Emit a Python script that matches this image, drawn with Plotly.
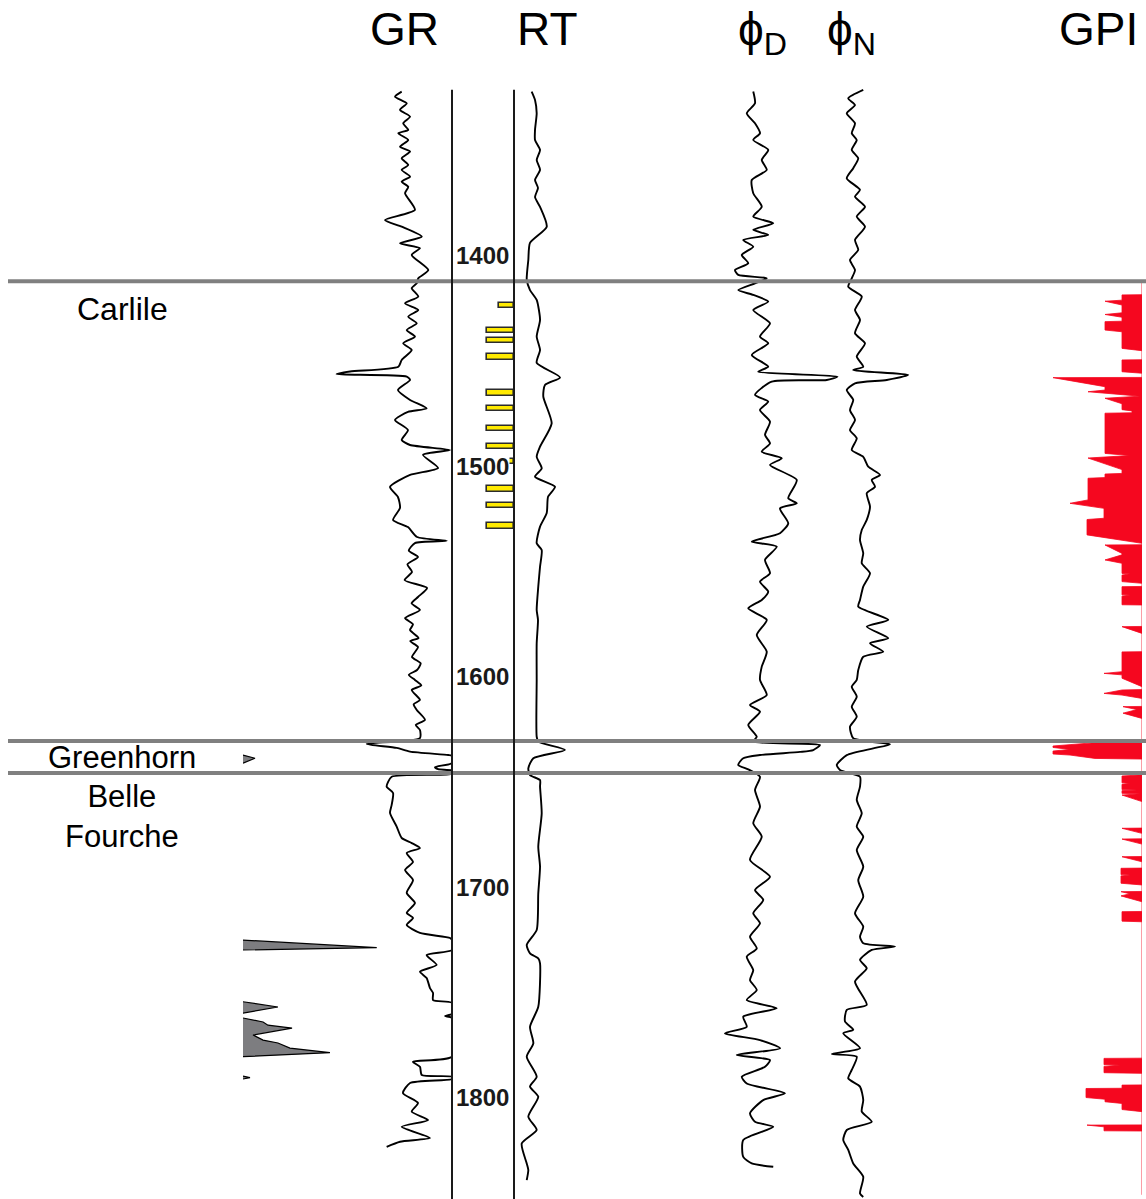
import plotly.graph_objects as go

W, H = 1146, 1199

# ---------------- data ----------------
depth_ticks = [1400, 1500, 1600, 1700, 1800]

formations = ["Carlile", "Greenhorn", "Belle Fourche"]
formation_tops = [1412.0, 1630.4, 1645.6]

# Gamma ray (API), main curve
gr_depth = [1321.9, 1324.3, 1327.5, 1330.6, 1333.8, 1337.0, 1340.1, 1341.7, 1344.9, 1348.1,
            1350.4, 1353.6, 1356.8, 1359.1, 1362.3, 1364.7, 1367.1, 1370.2, 1378.1, 1382.9,
            1386.1, 1390.8, 1394.0, 1396.3, 1399.5, 1406.7, 1410.6, 1413.0, 1415.3, 1419.3,
            1422.5, 1425.7, 1428.8, 1432.0, 1435.2, 1438.3, 1441.5, 1444.7, 1449.4, 1452.6,
            1454.9, 1456.1, 1457.3, 1458.9, 1463.7, 1468.4, 1472.4, 1474.1, 1477.9, 1482.7,
            1487.4, 1489.8, 1492.2, 1494.5, 1500.7, 1504.0, 1509.7, 1514.5, 1519.7, 1525.4,
            1528.8, 1533.5, 1535.3, 1536.4, 1540.0, 1543.0, 1546.5, 1550.1, 1554.0, 1557.7,
            1562.0, 1565.0, 1568.2, 1572.0, 1575.0, 1577.7, 1581.5, 1583.0, 1585.8, 1590.5,
            1593.5, 1596.7, 1599.0, 1601.4, 1604.0, 1606.2, 1610.9, 1613.0, 1615.7, 1620.4,
            1622.8, 1625.2, 1629.0, 1631.8, 1633.7, 1635.5, 1637.1, 1637.5, 1640.9, 1642.8,
            1643.8, 1644.5, 1646.0, 1647.4, 1652.1, 1655.1, 1660.8, 1664.6, 1671.1, 1676.5,
            1678.9, 1681.3, 1683.6, 1687.9, 1691.7, 1696.5, 1702.6, 1707.4, 1712.1, 1714.5,
            1717.8, 1721.6, 1724.0, 1725.0, 1729.7, 1732.1, 1736.8, 1740.0, 1743.0, 1747.8,
            1750.1, 1753.5, 1754.8, 1760.0, 1761.1, 1762.0, 1780.4, 1782.8, 1785.2, 1789.1,
            1789.9, 1791.0, 1792.9, 1797.7, 1802.4, 1806.5, 1810.5, 1813.7, 1819.0, 1820.8,
            1823.2]
gr_api = [113.9, 109.1, 117.5, 112.7, 119.9, 115.0, 118.6, 111.5, 118.6, 112.7,
          119.9, 113.9, 118.6, 113.9, 119.9, 113.9, 118.6, 116.3, 123.4, 101.9,
          113.9, 128.3, 112.7, 127.0, 121.1, 133.0, 125.8, 124.7, 121.1, 125.8,
          116.3, 125.8, 118.6, 124.7, 117.5, 123.4, 115.0, 121.1, 113.9, 111.5,
          76.8, 67.2, 117.5, 119.9, 111.2, 119.9, 131.8, 118.4, 109.1, 118.4,
          113.9, 119.9, 148.6, 129.2, 140.0, 119.9, 105.5, 111.2, 112.7, 107.7,
          118.4, 124.9, 146.2, 123.4, 119.0, 125.6, 118.0, 121.3, 116.0, 132.1,
          125.6, 121.0, 127.0, 116.3, 122.0, 119.9, 126.0, 120.0, 125.6, 121.3,
          127.5, 124.9, 119.0, 123.4, 128.0, 121.1, 127.0, 122.5, 124.7, 130.6,
          124.0, 127.0, 127.0, 88.8, 110.3, 119.9, 147.3, 150.0, 150.0, 137.8,
          140.0, 150.0, 150.0, 106.7, 103.1, 107.7, 106.7, 105.5, 110.3, 113.9,
          121.1, 127.0, 117.5, 122.0, 116.3, 122.0, 117.5, 123.4, 117.5, 122.0,
          117.5, 127.0, 148.6, 150.0, 150.0, 131.8, 139.0, 127.0, 131.8, 134.2,
          136.4, 136.4, 150.0, 150.0, 145.0, 150.0, 150.0, 122.0, 127.0, 128.3,
          150.0, 150.0, 119.9, 114.8, 125.6, 121.1, 132.8, 113.9, 134.2, 112.7,
          103.1]

# Gamma ray wrap-around (API above the 150 full scale), shaded backup
gr_wrap_depth = [1637.1, 1638.6, 1641.0, None,
                 1725.0, 1728.6, 1729.7, None,
                 1754.3, 1756.8, 1759.7, None,
                 1762.0, 1763.9, 1765.4, 1766.8, 1770.1, 1772.5, 1773.9, 1776.3, 1778.5, 1780.4, None,
                 1789.6, 1790.3, 1791.0]
gr_wrap_api = [0, 8.6, 0, None,
               0, 96.0, 0, None,
               0, 25.1, 0, None,
               0, 14.4, 17.9, 35.2, 7.2, 14.4, 25.1, 33.7, 62.4, 0, None,
               0, 5.0, 0]

# Deep resistivity (ohm-m)
rt_depth = [1321.9, 1325.9, 1332.2, 1340.1, 1344.9, 1349.6, 1354.4, 1359.1, 1363.9, 1367.7,
            1372.0, 1376.7, 1386.1, 1393.8, 1401.9, 1411.4, 1416.2, 1420.9, 1430.4, 1438.3,
            1444.7, 1450.8, 1457.7, 1461.3, 1466.8, 1479.5, 1490.6, 1495.4, 1500.9, 1504.9,
            1509.6, 1514.4, 1522.1, 1528.6, 1536.5, 1539.7, 1547.6, 1557.1, 1568.2, 1572.9,
            1584.0, 1601.4, 1628.4, 1630.7, 1634.7, 1638.6, 1643.4, 1646.6, 1649.0, 1652.1,
            1664.8, 1680.6, 1690.1, 1702.8, 1720.2, 1727.3, 1731.3, 1733.7, 1736.1, 1756.7,
            1766.2, 1774.1, 1780.4, 1789.9, 1794.6, 1799.4, 1808.9, 1815.2, 1821.6, 1831.1,
            1834.2, 1839.0]
rt_ohmm = [1.90, 2.26, 2.44, 2.26, 2.26, 2.80, 2.44, 2.80, 2.26, 2.58,
           2.26, 2.80, 3.52, 1.72, 1.54, 1.37, 1.72, 2.44, 2.80, 2.44,
           2.80, 2.44, 4.95, 3.33, 3.15, 4.05, 2.80, 2.44, 2.98, 2.26,
           4.41, 3.66, 3.52, 2.80, 2.44, 2.98, 2.80, 2.61, 2.44, 2.58,
           2.44, 2.44, 2.44, 2.61, 5.48, 2.08, 1.54, 1.72, 2.80, 2.80,
           2.98, 2.61, 2.80, 2.61, 2.44, 1.37, 1.72, 2.61, 2.80, 2.61,
           1.72, 2.08, 1.37, 2.44, 1.72, 2.61, 1.54, 2.44, 0.83, 1.37,
           1.54, 1.37]

# Density porosity (v/v)
phid_depth = [1321.9, 1327.5, 1332.2, 1337.0, 1341.7, 1344.9, 1349.6, 1354.4, 1359.1, 1363.9,
              1370.2, 1376.6, 1381.3, 1384.5, 1387.6, 1390.0, 1392.4, 1395.6, 1399.5, 1403.5,
              1406.7, 1409.0, 1410.6, 1413.0, 1416.2, 1418.5, 1421.7, 1425.7, 1432.0, 1438.3,
              1441.5, 1447.0, 1452.6, 1455.0, 1457.3, 1458.9, 1459.7, 1466.0, 1469.2, 1473.2,
              1478.7, 1485.0, 1489.0, 1493.0, 1496.1, 1499.3, 1506.4, 1515.1, 1517.5, 1519.9,
              1527.0, 1531.7, 1535.7, 1538.1, 1544.4, 1550.7, 1554.7, 1559.5, 1563.4, 1567.4,
              1572.9, 1580.1, 1588.0, 1595.1, 1601.4, 1608.6, 1613.3, 1616.5, 1622.8, 1628.4,
              1630.7, 1632.3, 1634.7, 1635.6, 1637.1, 1638.6, 1641.8, 1643.9, 1647.4, 1653.7,
              1661.6, 1669.5, 1675.9, 1686.9, 1694.9, 1701.2, 1705.9, 1712.3, 1717.0, 1723.4,
              1729.0, 1732.9, 1739.3, 1744.0, 1748.7, 1753.5, 1757.4, 1761.4, 1766.2, 1769.3,
              1772.5, 1776.4, 1779.6, 1782.0, 1785.2, 1789.9, 1793.1, 1797.8, 1801.0, 1807.3,
              1811.3, 1813.7, 1820.0, 1828.0, 1831.1, 1832.7]
phid = [0.197, 0.190, 0.223, 0.190, 0.170, 0.197, 0.137, 0.163, 0.143, 0.203,
        0.197, 0.163, 0.197, 0.117, 0.197, 0.137, 0.237, 0.197, 0.243, 0.217,
        0.270, 0.257, 0.143, 0.190, 0.257, 0.197, 0.137, 0.197, 0.130, 0.170,
        0.137, 0.203, 0.137, 0.177, -0.140, -0.097, 0.123, 0.190, 0.137, 0.170,
        0.130, 0.150, 0.130, 0.163, 0.083, 0.130, 0.023, 0.057, 0.023, 0.090,
        0.057, 0.090, 0.203, 0.103, 0.150, 0.130, 0.170, 0.137, 0.163, 0.217,
        0.143, 0.183, 0.143, 0.163, 0.170, 0.143, 0.210, 0.170, 0.217, 0.183,
        0.197, -0.070, -0.043, 0.010, 0.170, 0.237, 0.257, 0.217, 0.170, 0.190,
        0.170, 0.197, 0.163, 0.210, 0.130, 0.190, 0.157, 0.197, 0.170, 0.210,
        0.183, 0.223, 0.197, 0.210, 0.183, 0.223, 0.103, 0.237, 0.223, 0.310,
        0.170, 0.090, 0.263, 0.130, 0.150, 0.243, 0.223, 0.070, 0.157, 0.210,
        0.190, 0.117, 0.237, 0.237, 0.203, 0.117]

# Neutron porosity (v/v)
phin_depth = [1321.1, 1325.1, 1328.3, 1332.2, 1337.0, 1341.7, 1344.9, 1349.6, 1353.6, 1358.3,
              1363.1, 1368.6, 1371.8, 1376.6, 1381.3, 1386.1, 1392.4, 1397.1, 1401.9, 1406.7,
              1410.6, 1414.6, 1419.3, 1425.7, 1430.4, 1436.7, 1441.5, 1447.8, 1452.6, 1454.2,
              1456.5, 1458.9, 1460.5, 1463.7, 1468.4, 1473.2, 1477.9, 1482.7, 1486.6, 1492.2,
              1495.4, 1500.1, 1504.0, 1506.4, 1509.6, 1512.7, 1519.1, 1525.4, 1530.2, 1534.9,
              1541.2, 1546.0, 1550.7, 1557.1, 1563.4, 1566.6, 1572.9, 1576.1, 1581.6, 1584.0,
              1588.0, 1590.4, 1596.7, 1601.4, 1604.6, 1609.4, 1614.1, 1618.9, 1623.6, 1629.1,
              1632.0, 1633.9, 1637.1, 1641.8, 1644.2, 1647.4, 1652.1, 1658.4, 1664.8, 1671.1,
              1675.9, 1682.2, 1690.1, 1696.5, 1704.4, 1712.3, 1718.6, 1723.4, 1726.5, 1728.1,
              1729.7, 1734.4, 1738.4, 1744.7, 1755.8, 1758.2, 1763.7, 1767.6, 1769.3, 1776.4,
              1779.1, 1780.4, 1786.7, 1790.7, 1794.6, 1801.0, 1806.5, 1811.3, 1815.2, 1820.0,
              1824.7, 1831.1, 1837.4, 1845.4, 1847.0]
phin = [0.347, 0.407, 0.380, 0.413, 0.380, 0.393, 0.373, 0.393, 0.367, 0.387,
        0.413, 0.360, 0.380, 0.340, 0.373, 0.340, 0.380, 0.367, 0.400, 0.380,
        0.393, 0.407, 0.353, 0.380, 0.360, 0.380, 0.340, 0.373, 0.347, 0.387,
        0.167, 0.253, 0.380, 0.413, 0.387, 0.400, 0.380, 0.400, 0.373, 0.393,
        0.347, 0.327, 0.280, 0.313, 0.300, 0.333, 0.320, 0.333, 0.353, 0.360,
        0.347, 0.353, 0.320, 0.347, 0.360, 0.367, 0.247, 0.333, 0.247, 0.320,
        0.267, 0.347, 0.367, 0.373, 0.393, 0.373, 0.393, 0.373, 0.400, 0.387,
        0.240, 0.307, 0.413, 0.453, 0.440, 0.360, 0.360, 0.373, 0.353, 0.373,
        0.347, 0.373, 0.347, 0.367, 0.347, 0.380, 0.347, 0.360, 0.347, 0.220,
        0.313, 0.360, 0.333, 0.380, 0.333, 0.413, 0.420, 0.387, 0.427, 0.360,
        0.473, 0.373, 0.393, 0.407, 0.360, 0.347, 0.353, 0.313, 0.413, 0.427,
        0.407, 0.387, 0.347, 0.360, 0.347]

# Gas potential index (0-1)
gpi_depth = [1412.5, 1418.4, 1418.5, 1421.0, 1421.5, 1423.3, 1427.0, 1427.8, 1429.1, 1431.0,
             1431.2, 1435.2, 1436.0, 1443.9, 1445.0, 1449.3, 1449.4, 1455.0, 1455.7, 1457.7,
             1457.8, 1462.1, 1463.7, 1464.5, 1466.6, 1467.6, 1470.2, 1473.0, 1473.6, 1474.5,
             1474.7, 1493.8, 1494.8, 1496.0, 1501.5, 1503.3, 1503.6, 1505.3, 1505.6, 1515.9,
             1517.5, 1519.9, 1524.6, 1525.2, 1532.5, 1536.5, 1537.2, 1537.3, 1541.3, 1542.0,
             1544.4, 1546.0, 1550.8, 1551.0, 1551.6, 1554.7, 1555.5, 1557.0, 1557.1, 1561.0,
             1561.1, 1561.6, 1565.7, 1565.8, 1576.0, 1576.1, 1579.3, 1588.0, 1588.1, 1597.5,
             1598.3, 1599.0, 1600.6, 1604.6, 1606.0, 1606.2, 1607.8, 1608.6, 1610.2, 1614.0,
             1614.1, 1615.5, 1617.2, 1619.7, 1630.6,
             1631.2, 1632.8, 1633.5, 1634.4, 1635.2, 1636.6, 1637.1, 1638.7, 1639.0, 1646.5,
             1647.05, 1650.3, 1650.5, 1651.0, 1653.5, 1653.7, 1654.0, 1655.3, 1655.5, 1656.1,
             1659.2, 1671.8, 1671.9, 1674.3, 1676.9, 1677.0, 1679.4, 1685.3, 1685.4, 1687.8,
             1690.8, 1690.9, 1693.9, 1694.1, 1694.5, 1698.0, 1698.8, 1701.9, 1702.0, 1703.0,
             1704.0, 1706.8, 1711.4, 1711.5, 1716.0, 1716.3, 1781.1, 1781.2, 1784.2, 1784.4,
             1785.0, 1788.0, 1788.3, 1793.8, 1793.9, 1795.4, 1795.5, 1799.8, 1800.6, 1801.8,
             1802.6, 1805.5, 1806.5, 1812.8, 1812.9, 1813.7, 1815.6, 1815.7, 1846.0]
gpi = [0.0, 0.0, 0.20, 0.20, 0.37, 0.20, 0.20, 0.37, 0.20, 0.20,
       0.37, 0.37, 0.20, 0.20, 0.0, 0.0, 0.20, 0.20, 0.0, 0.0,
       0.89, 0.37, 0.37, 0.54, 0.02, 0.37, 0.20, 0.20, 0.10, 0.10,
       0.37, 0.37, 0.12, 0.54, 0.20, 0.20, 0.37, 0.37, 0.54, 0.54,
       0.72, 0.38, 0.38, 0.55, 0.55, 0.0, 0.0, 0.37, 0.20, 0.20,
       0.37, 0.20, 0.20, 0.12, 0.20, 0.20, 0.0, 0.0, 0.20, 0.20,
       0.12, 0.20, 0.20, 0.0, 0.0, 0.20, 0.0, 0.0, 0.20, 0.20,
       0.38, 0.20, 0.20, 0.0, 0.0, 0.20, 0.38, 0.20, 0.0, 0.0,
       0.19, 0.05, 0.19, 0.0, 0.0,
       0.47, 0.89, 0.89, 0.72, 0.89, 0.89, 0.72, 0.47, 0.0, 0.0,
       0.20, 0.20, 0.12, 0.20, 0.20, 0.05, 0.20, 0.20, 0.02, 0.20,
       0.0, 0.0, 0.20, 0.0, 0.0, 0.20, 0.0, 0.0, 0.20, 0.0,
       0.0, 0.21, 0.21, 0.12, 0.21, 0.21, 0.0, 0.0, 0.21, 0.12,
       0.21, 0.0, 0.0, 0.20, 0.20, 0.0, 0.0, 0.38, 0.38, 0.22,
       0.38, 0.38, 0.0, 0.0, 0.20, 0.20, 0.56, 0.56, 0.37, 0.37,
       0.20, 0.20, 0.0, 0.0, 0.55, 0.38, 0.38, 0.0, 0.0]

# Core sample depths (ft) and marker length (fraction of depth track)
sample_depth = [1423.6, 1435.5, 1440.2, 1448.1, 1465.2, 1472.4, 1481.9, 1490.6, 1497.7,
                1510.8, 1518.6, 1528.3]
sample_len = [0.24, 0.44, 0.44, 0.44, 0.44, 0.44, 0.44, 0.44, 0.44, 0.44, 0.44, 0.44]

# ---------------- layout helpers ----------------
def dom(a, b):
    return [a / W, b / W]

FONT = "Liberation Sans, Arial, Helvetica, sans-serif"
LINE = dict(color="black", width=1.9)

fig = go.Figure()

# GR main curve
fig.add_trace(go.Scatter(x=gr_api, y=gr_depth, mode="lines", line=dict(LINE, shape="spline", smoothing=0.6),
                         xaxis="x", yaxis="y", hoverinfo="skip"))
# GR wrap-around (shaded)
fig.add_trace(go.Scatter(x=gr_wrap_api, y=gr_wrap_depth, mode="lines", fill="toself",
                         fillcolor="#7d7d80", line=dict(color="black", width=1.2),
                         xaxis="x", yaxis="y", hoverinfo="skip", connectgaps=False))
# core samples
fig.add_trace(go.Bar(x=sample_len, y=sample_depth, base=0, orientation="h", width=2.6,
                     marker=dict(color="#FFEA00", line=dict(color="#2b2b2b", width=1.6)),
                     xaxis="x2", yaxis="y", hoverinfo="skip"))
# RT
fig.add_trace(go.Scatter(x=rt_ohmm, y=rt_depth, mode="lines", line=dict(LINE, shape="spline", smoothing=0.6),
                         xaxis="x3", yaxis="y", hoverinfo="skip"))
# PhiD
fig.add_trace(go.Scatter(x=phid, y=phid_depth, mode="lines", line=dict(LINE, shape="spline", smoothing=0.6),
                         xaxis="x4", yaxis="y", hoverinfo="skip"))
# PhiN
fig.add_trace(go.Scatter(x=phin, y=phin_depth, mode="lines", line=dict(LINE, shape="spline", smoothing=0.6),
                         xaxis="x5", yaxis="y", hoverinfo="skip"))
# GPI
fig.add_trace(go.Scatter(x=gpi, y=gpi_depth, mode="lines", fill="tozerox",
                         fillcolor="#F5071F", line=dict(color="#F5071F", width=0.8),
                         xaxis="x6", yaxis="y", hoverinfo="skip"))

hidden = dict(visible=False, showgrid=False, zeroline=False, fixedrange=True)

# formation tops
shapes = []
for top in formation_tops:
    shapes.append(dict(type="line", xref="paper", yref="y", x0=8 / W, x1=1.0, y0=top, y1=top,
                       line=dict(color="#808080", width=4), layer="above"))
# depth track borders
for xb in (452, 514):
    shapes.append(dict(type="line", xref="paper", yref="y", x0=xb / W, x1=xb / W,
                       y0=1321.0, y1=1848.0, line=dict(color="#1a1a1a", width=2), layer="above"))

annotations = []
# depth labels
for d in depth_ticks:
    annotations.append(dict(x=483 / W, xref="paper", y=d, yref="y", text="<b>%d</b>" % d, showarrow=False,
                            font=dict(family=FONT, size=24, color="#1a1a1a"),
                            bgcolor="white", borderpad=0, xanchor="center", yanchor="middle"))
# formation names
for name, top, nxt in zip(formations, formation_tops, formation_tops[1:] + [None]):
    if name == "Greenhorn":
        annotations.append(dict(x=122 / W, xref="paper", y=(top + nxt) / 2, yref="y", text=name,
                                showarrow=False, font=dict(family=FONT, size=31, color="black"),
                                xanchor="center", yanchor="middle", yshift=-1))
    else:
        annotations.append(dict(x=122 / W, xref="paper", y=top, yref="y", text=name.replace(" ", "<br>"),
                                showarrow=False, font=dict(family=FONT, size=32 if name == "Carlile" else 31,
                                                           color="black"),
                                xanchor="center", yanchor="top", yshift=-8 if name == "Carlile" else -4))

# track headers
headers = [("GR", 404), ("RT", 547), ("\u03d5<sub>D</sub>", 762), ("\u03d5<sub>N</sub>", 851), ("GPI", 1098)]
for txt, xc in headers:
    annotations.append(dict(x=xc / W, xref="paper", y=1.0, yref="paper", text=txt, showarrow=False,
                            font=dict(family=FONT, size=46, color="black"),
                            xanchor="center", yanchor="top", yshift=-1))

fig.update_layout(
    width=W, height=H, autosize=False,
    margin=dict(l=0, r=0, t=0, b=0, pad=0),
    paper_bgcolor="white", plot_bgcolor="white",
    showlegend=False,
    xaxis=dict(hidden, domain=dom(243, 452), range=[0, 150], anchor="y"),
    xaxis2=dict(hidden, domain=dom(452, 514), range=[1, 0], anchor="y"),
    xaxis3=dict(hidden, domain=dom(514, 700), range=[0, 20], anchor="y"),
    xaxis4=dict(hidden, domain=dom(690, 840), range=[0.45, -0.15], anchor="y"),
    xaxis5=dict(hidden, domain=dom(800, 950), range=[0.6, 0.0], anchor="y"),
    xaxis6=dict(hidden, domain=dom(1032, 1142), range=[1.1, 0.0], anchor="y"),
    yaxis=dict(hidden, domain=[0, 1], range=[1848.0, 1278.4]),
    shapes=shapes,
    annotations=annotations,
    bargap=0,
)

fig.write_html("out.html")
